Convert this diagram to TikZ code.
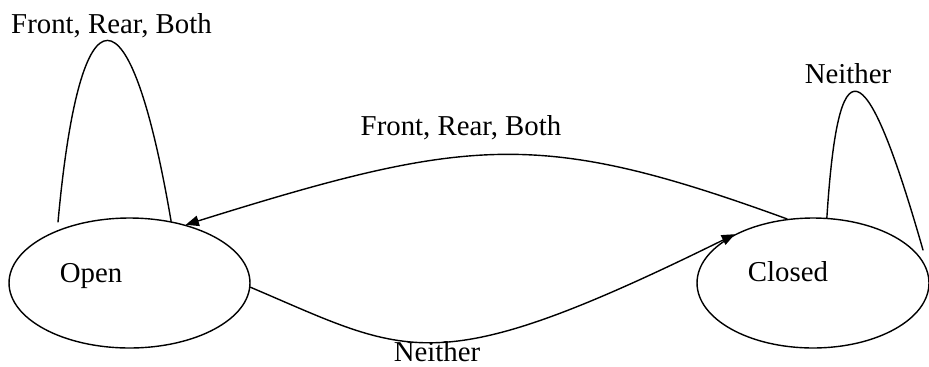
\documentclass[tikz,border=0pt]{standalone}
\usepackage{fontspec}
\setmainfont{Liberation Serif}
\usetikzlibrary{arrows.meta,shapes.geometric}

\begin{document}
\begin{tikzpicture}[x=0.02cm,y=-0.02cm,line cap=round,
    statenode/.style={ellipse,draw,line width=0.8pt,inner sep=0pt,minimum width=4.82cm,minimum height=2.6cm},
    lbl/.style={anchor=base,inner sep=0pt,font=\fontsize{16.4}{20}\selectfont},
    trans/.style={line width=0.8pt,-{Triangle[length=7.5pt,width=6pt]}},
    selfloop/.style={line width=0.8pt}]
  \useasboundingbox (0,0) rectangle (929,366);
  % states
  \node[statenode] (open) at (129.5,283) {};
  \node[statenode,minimum width=4.64cm] (closed) at (813,283) {};
  \node[lbl] (openlbl) at (91,282) {Open};
  \node[lbl] (closedlbl) at (788,281) {Closed};
  % self loops
  \coordinate (ofoot) at (58,222); \coordinate (cfoot) at (923,250);
  \draw[selfloop] (ofoot) .. controls (80,-20) and (130,-20) .. (open.56);
  \draw[selfloop] (closed.78) .. controls (838,44) and (864,44) .. (cfoot);
  \node[lbl] (oloop) at (111.5,33) {Front, Rear, Both};
  \node[lbl] (cloop) at (848,83) {Neither};
  % transitions
  \draw[trans] (closed.112) .. controls (540,129) and (470,136) .. (open.46);
  \draw[trans] (open.-2) .. controls (410,355) and (433,383) .. (closed.148);
  \node[lbl] (toplbl) at (461,135) {Front, Rear, Both};
  \node[lbl] (botlbl) at (437,361) {Neither};
\end{tikzpicture}
\end{document}
